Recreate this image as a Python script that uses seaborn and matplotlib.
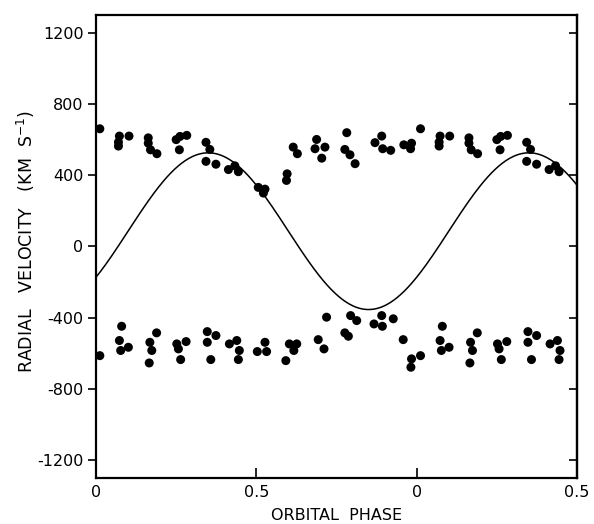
import numpy as np
import pandas as pd
import seaborn as sns
import matplotlib.pyplot as plt

upper_phase = [0.012, 0.073, 0.070, 0.070, 0.103, 0.163, 0.163, 0.170, 0.190,
               0.250, 0.262, 0.283, 0.260, 0.343, 0.355, 0.343, 0.374, 0.413,
               0.433, 0.444, 0.506, 0.527, 0.522, 0.596, 0.594, 0.615, 0.628,
               0.688, 0.683, 0.714, 0.704, 0.782, 0.776, 0.792, 0.808, 0.891,
               0.870, 0.894, 0.919, 0.960, 0.984, 0.981]
upper_vel = [661, 620, 586, 564, 620, 610, 580, 543, 521,
             600, 618, 624, 543, 585, 545, 478, 462, 432,
             453, 420, 332, 322, 300, 408, 371, 558, 521,
             601, 549, 558, 496, 639, 545, 515, 465, 620,
             583, 549, 540, 571, 580, 549]

lower_phase = [0.012, 0.080, 0.073, 0.077, 0.101, 0.189, 0.168, 0.174, 0.166,
               0.252, 0.257, 0.281, 0.264, 0.347, 0.374, 0.347, 0.358, 0.416,
               0.439, 0.447, 0.444, 0.503, 0.527, 0.532, 0.603, 0.626, 0.617,
               0.592, 0.693, 0.711, 0.719, 0.776, 0.787, 0.794, 0.813, 0.867,
               0.891, 0.893, 0.927, 0.958, 0.984, 0.982]
lower_vel = [-613, -448, -528, -584, -566, -485, -538, -584, -654,
             -547, -575, -534, -635, -478, -500, -538, -635, -547,
             -528, -584, -635, -590, -538, -590, -547, -547, -584,
             -641, -523, -575, -397, -485, -504, -388, -416, -435,
             -388, -448, -406, -523, -631, -678]

# Fitted orbit: systemic velocity, semi-amplitude, phase of maximum
gamma = 86
K = 440
phase_max = 0.35

tick_pos = [0, 0.5, 1.0, 1.5]
tick_labels = ["0", "0.5", "0", "0.5"]
yticks = [-1200, -800, -400, 0, 400, 800, 1200]

# Build the table and repeat the first half cycle after phase 1
df = pd.DataFrame({
    "phase": upper_phase + lower_phase,
    "vel": upper_vel + lower_vel,
})
extra = df[df["phase"] < 0.5].copy()
extra["phase"] = extra["phase"] + 1.0
df = pd.concat([df, extra], ignore_index=True)

curve = pd.DataFrame({"phase": np.linspace(0, 1.5, 400)})
curve["vel"] = gamma + K * np.cos(2 * np.pi * (curve["phase"] - phase_max))

sns.set_style("ticks")
plt.rcParams['font.family'] = ['DejaVu Sans']
plt.rcParams['axes.unicode_minus'] = False

fig = plt.figure(figsize=(5.94, 5.24), dpi=100)
ax = fig.add_axes([0.1616, 0.0878, 0.8098, 0.8836])

sns.lineplot(data=curve, x="phase", y="vel", color="black", linewidth=1.1, ax=ax)
sns.scatterplot(data=df, x="phase", y="vel", color="black", s=42,
                edgecolor="none", ax=ax)

ax.set_xlim(0, 1.5)
ax.set_ylim(-1300, 1300)
ax.set_xticks(tick_pos)
ax.set_xticklabels(tick_labels)
ax.set_yticks(yticks)

for s in ax.spines.values():
    s.set_linewidth(1.6)
    s.set_color("black")
ax.tick_params(axis="y", direction="out", length=6, width=1.2, labelsize=11.5,
               pad=3, color="black", labelcolor="black")
ax.tick_params(axis="x", direction="in", length=7, width=1.2, labelsize=11.5,
               pad=5, color="black", labelcolor="black")

# right side ticks point inward
sec = ax.secondary_yaxis("right")
sec.set_yticks(yticks)
sec.tick_params(direction="in", length=6, width=1.2, labelright=False, color="black")
sec.spines["right"].set_linewidth(1.6)
sec.spines["right"].set_color("black")

ax.set_xlabel("")
ax.set_ylabel("")
fig.text(0.566, 0.016, "ORBITAL  PHASE", fontsize=11.5, color="black",
         ha="center", va="center")
fig.text(0.044, 0.54, "RADIAL   VELOCITY   (KM  S$^{-1}$)", fontsize=12.5,
         color="black", rotation=90, ha="center", va="center")

plt.savefig("out.png", dpi=100)
